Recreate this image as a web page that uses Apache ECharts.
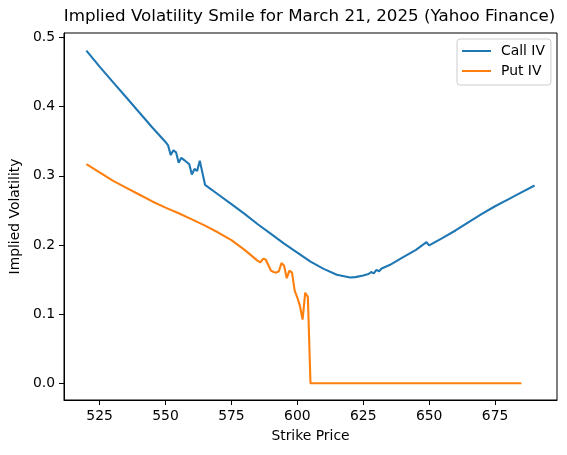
<!DOCTYPE html>
<html>
<head>
<meta charset="utf-8">
<script src="https://cdn.jsdelivr.net/npm/echarts@6/dist/echarts.min.js"></script>
<style>
	html, body { margin: 0; padding: 0; background: #fff; }
	#chart { width: 567px; height: 455px; }
</style>
</head>
<body>
<div id="chart"></div>
<script>
// 行权价与隐含波动率数据
const callStrikes = [520, 525, 530, 535, 540, 545, 550, 551, 552, 553, 554, 555, 556, 557, 558, 559, 560, 561, 562, 563, 565,
	570, 575, 580, 585, 590, 595, 600, 605, 610, 615, 620, 622, 625, 626, 627, 628, 629, 630, 631, 632, 635, 640, 645, 649, 650,
	655, 660, 665, 670, 675, 680, 685, 690];
const callIV = [0.481, 0.458, 0.436, 0.414, 0.392, 0.370, 0.349, 0.344, 0.330, 0.337, 0.334, 0.319, 0.326, 0.323, 0.320, 0.317, 0.302, 0.310, 0.307, 0.322, 0.287,
	0.273, 0.259, 0.245, 0.230, 0.216, 0.202, 0.189, 0.176, 0.1655, 0.157, 0.153, 0.1535, 0.156, 0.157, 0.158, 0.161, 0.159, 0.164, 0.162, 0.166, 0.171, 0.182, 0.193, 0.204, 0.1995,
	0.210, 0.221, 0.233, 0.245, 0.256, 0.266, 0.276, 0.286];

const putStrikes = [520, 525, 530, 535, 540, 545, 550, 555, 560, 565, 570, 575, 580, 585, 586, 587, 588, 589, 590, 591, 592, 593, 594, 595,
	596, 597, 598, 599, 600, 601, 602, 603, 604, 605, 610, 620, 630, 640, 650, 660, 670, 680, 685];
const putIV = [0.317, 0.305, 0.293, 0.283, 0.273, 0.263, 0.254, 0.246, 0.237, 0.228, 0.218, 0.207, 0.193, 0.177, 0.175, 0.180, 0.179, 0.171, 0.163, 0.161, 0.160, 0.162, 0.174, 0.170,
	0.152, 0.163, 0.160, 0.134, 0.124, 0.112, 0.092, 0.131, 0.125, 0.0, 0.0, 0.0, 0.0, 0.0, 0.0, 0.0, 0.0, 0.0, 0.0];

const xTicks = [525, 550, 575, 600, 625, 650, 675];
const yTicks = [0.0, 0.1, 0.2, 0.3, 0.4, 0.5];

(function () {
	const font = 'DejaVu Sans';
	let myChart = echarts.init(document.getElementById('chart'), null, { renderer: 'canvas' });
	const zip = (xs, ys) => xs.map((x, i) => [x, ys[i]]);
	const option = {
		animation: false,
		backgroundColor: '#fff',
		title: {
			text: 'Implied Volatility Smile for March 21, 2025 (Yahoo Finance)',
			left: 309.5,
			textAlign: 'center',
			top: 8,
			padding: 0,
			textStyle: { fontFamily: font, fontSize: 16.7, fontWeight: 'normal', color: '#000' }
		},
		legend: {
			left: 457,
			top: 39,
			orient: 'vertical',
			padding: [4, 6, 6, 5],
			itemGap: 4,
			itemWidth: 29,
			itemHeight: 2,
			icon: 'rect',
			borderColor: '#cccccc',
			borderWidth: 1,
			borderRadius: 3,
			backgroundColor: 'rgba(255,255,255,0.8)',
			textStyle: { fontFamily: font, fontSize: 13.9, color: '#000', lineHeight: 16, padding: [0, 0, 0, 5] },
			data: ['Call IV', 'Put IV']
		},
		grid: {
			left: 62,
			right: 10,
			top: 33,
			bottom: 55,
			show: true,
			borderColor: '#000',
			borderWidth: 1
		},
		xAxis: {
			type: 'value',
			min: 511.5,
			max: 698.5,
			name: 'Strike Price',
			nameLocation: 'middle',
			nameGap: 29,
			nameTextStyle: { fontFamily: font, fontSize: 13.9, color: '#000' },
			axisLine: { show: true, onZero: false, lineStyle: { color: '#000', width: 1 } },
			axisTick: { show: true, length: 5, customValues: xTicks, lineStyle: { color: '#000' } },
			axisLabel: { customValues: xTicks, margin: 9, fontFamily: font, fontSize: 13.9, color: '#000' },
			splitLine: { show: false }
		},
		yAxis: {
			type: 'value',
			min: -0.0242,
			max: 0.5066,
			name: 'Implied Volatility',
			nameLocation: 'middle',
			nameGap: 30,
			nameTextStyle: { fontFamily: font, fontSize: 13.9, color: '#000' },
			axisLine: { show: true, onZero: false, lineStyle: { color: '#000', width: 1 } },
			axisTick: { show: true, length: 5, customValues: yTicks, lineStyle: { color: '#000' } },
			axisLabel: {
				customValues: yTicks, margin: 9, fontFamily: font, fontSize: 13.9, color: '#000',
				formatter: v => v.toFixed(1)
			},
			splitLine: { show: false }
		},
		series: [
			{
				name: 'Call IV',
				type: 'line',
				data: zip(callStrikes, callIV),
				showSymbol: false,
				color: '#1f77b4',
				lineStyle: { width: 2.1, color: '#1f77b4' }
			},
			{
				name: 'Put IV',
				type: 'line',
				data: zip(putStrikes, putIV),
				showSymbol: false,
				color: '#ff7f0e',
				lineStyle: { width: 2.1, color: '#ff7f0e' }
			}
		]
	};
	myChart.setOption(option);
})();
</script>
</body>
</html>
